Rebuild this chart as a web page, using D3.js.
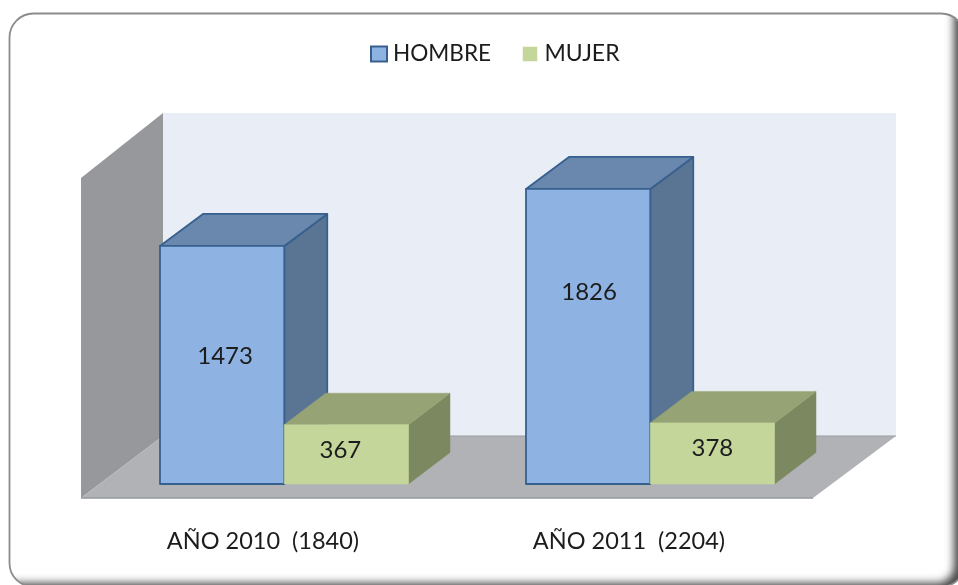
<!DOCTYPE html>
<html><head><meta charset="utf-8">
<script src="https://cdn.jsdelivr.net/npm/d3@7"></script>
<style>html,body{margin:0;padding:0;background:#fff;overflow:hidden}svg{display:block}text{font-family:Lato,"Open Sans",sans-serif;fill:#1c1c1c}</style>
</head><body><svg width="958" height="585"></svg>
<script>
const categories = ["AÑO 2010  (1840)", "AÑO 2011  (2204)"];
const seriesNames = ["HOMBRE", "MUJER"];
const hombre = [1473, 1826];
const mujer = [367, 378];
const seriesValues = [hombre, mujer];
const faceColors = [
  {front:"#8eb2e2", top:"#6b88ad", side:"#5a7494", stroke:"#37608f"},
  {front:"#c5d69b", top:"#96a475", side:"#7c8860", stroke:"#c5d69b"}
];
// hand-placed label nudges, [series][category], relative to the bar's centre
const labelNudge = [[[3,-9],[1,-45]],[[-6,-5],[0,-6]]];

const svg = d3.select("svg");
const defs = svg.append("defs");
defs.append("filter").attr("id","blur").attr("x","-5%").attr("y","-5%").attr("width","110%").attr("height","110%")
  .append("feGaussianBlur").attr("stdDeviation",0.6);
defs.append("clipPath").attr("id","frameClip").append("rect")
  .attr("x",9.5).attr("y",13.5).attr("width",955.5).attr("height",573.5).attr("rx",24);

// frame, running off the right and bottom of the picture, with its inner shadow
const frame = svg.append("g");
frame.append("rect").attr("x",9.5).attr("y",13.5).attr("width",955.5).attr("height",573.5).attr("rx",24).attr("fill","#fff");
frame.append("g").attr("clip-path","url(#frameClip)").append("rect")
  .attr("x",-40).attr("y",-40).attr("width",1001).attr("height",630).attr("rx",24)
  .attr("fill","none").attr("stroke","#444").attr("stroke-width",14).style("filter","blur(4.5px)");
frame.append("rect").attr("x",9.5).attr("y",13.5).attr("width",955.5).attr("height",573.5).attr("rx",24)
  .attr("fill","none").attr("stroke","#8c8c8c").attr("stroke-width",1.8).attr("filter","url(#blur)");

const g = svg.append("g").attr("filter","url(#blur)");
const baseline = 498, depthX = 83, depthY = 62;
const plotLeft = 81, plotRight = 813;
const x = d3.scaleBand().domain(categories).range([plotLeft+20, plotRight+20]);
const inner = d3.scaleBand().domain(seriesNames).range([-124, 124.5]);
const y = d3.scaleLinear().domain([0, 2000]).range([484, 484-323.2]);
const wallTop = 113;
const pts = p => p.map(d=>d.join(",")).join(" ");

// walls
g.append("polygon").attr("points",pts([[plotLeft+depthX-1,wallTop],[896,wallTop],[896,baseline-depthY],[plotLeft+depthX-1,baseline-depthY]])).attr("fill","#e9edf6");
g.append("polygon").attr("points",pts([[plotLeft,178],[plotLeft+depthX-1,wallTop],[plotLeft+depthX-1,baseline-depthY],[plotLeft,baseline]])).attr("fill","#96989c");
g.append("polygon").attr("points",pts([[plotLeft,baseline],[plotRight,baseline],[896,baseline-depthY],[plotLeft+depthX-1,baseline-depthY]])).attr("fill","#b0b2b6");
g.append("line").attr("x1",plotLeft).attr("x2",plotRight).attr("y1",baseline).attr("y2",baseline).attr("stroke","#96989c").attr("stroke-width",1.5);
g.append("line").attr("x1",plotLeft+depthX-1).attr("x2",896).attr("y1",baseline-depthY).attr("y2",baseline-depthY).attr("stroke","#9a9ca0").attr("stroke-width",1);

// bars
const depths = [[43,32],[41.5,31.5]];
categories.forEach((c,i)=>{
  seriesNames.forEach((s,j)=>{
    const v = seriesValues[j][i], col = faceColors[j], [dx,dy] = depths[j];
    const x0 = x(c)+x.bandwidth()/2+inner(s), x1 = x0+inner.bandwidth();
    const yT = y(v), yB = y(0);
    const bar = g.append("g").attr("stroke",col.stroke).attr("stroke-width",j==0?1.8:0.5).attr("stroke-linejoin","round");
    bar.append("polygon").attr("points",pts([[x1,yT],[x1+dx,yT-dy],[x1+dx,yB-dy],[x1,yB]])).attr("fill",col.side).attr("stroke",j==0?col.stroke:col.side);
    bar.append("polygon").attr("points",pts([[x0,yT],[x0+dx,yT-dy],[x1+dx,yT-dy],[x1,yT]])).attr("fill",col.top).attr("stroke",j==0?col.stroke:col.top);
    bar.append("rect").attr("x",x0).attr("y",yT).attr("width",x1-x0).attr("height",yB-yT).attr("fill",col.front);
    const [nx,ny] = labelNudge[j][i];
    g.append("text").attr("x",(x0+x1)/2+nx).attr("y",(yT+yB)/2+ny+8.5).attr("text-anchor","middle").attr("font-size",24).text(v);
  });
});

// category labels
categories.forEach(c=>{
  g.append("text").attr("x",x(c)+x.bandwidth()/2-21).attr("y",549).attr("text-anchor","middle").attr("font-size",23.5).attr("xml:space","preserve").style("white-space","pre").text(c);
});

// legend
const legendX = [371, 523], legendW = [16, 14], legendText = [393, 544.5];
seriesNames.forEach((s,j)=>{
  g.append("rect").attr("x",legendX[j]).attr("y",j==0?46.5:47).attr("width",legendW[j]).attr("height",legendW[j]-(j==0?1:0))
   .attr("fill",faceColors[j].front).attr("stroke",faceColors[j].stroke).attr("stroke-width",j==0?2:0.5);
  g.append("text").attr("x",legendText[j]).attr("y",61).attr("font-size",j==0?22.6:23).text(s);
});
</script></body></html>
